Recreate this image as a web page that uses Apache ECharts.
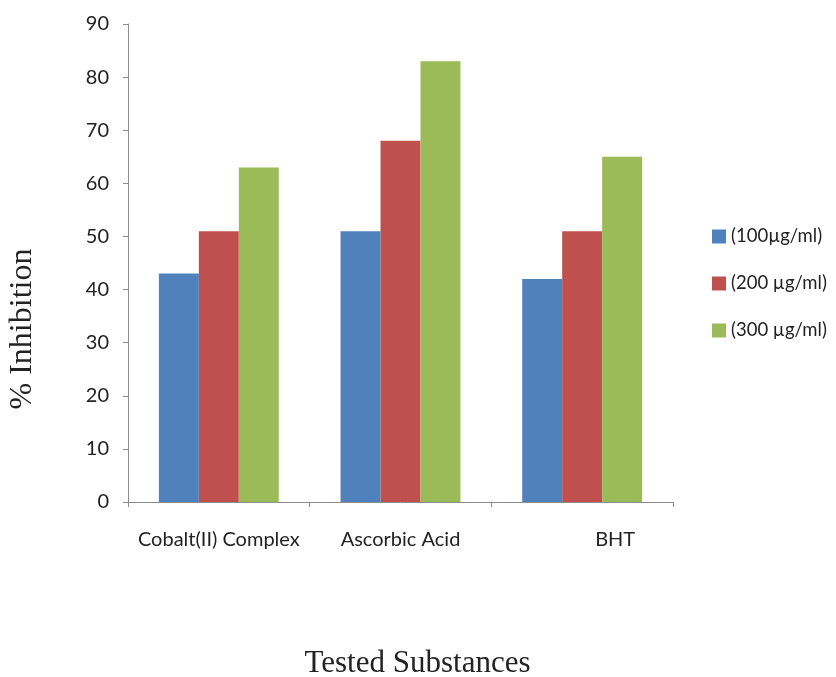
<!DOCTYPE html>
<html>
<head>
<meta charset="utf-8">
<script src="https://cdn.jsdelivr.net/npm/echarts@6/dist/echarts.min.js"></script>
<style>
  html, body { margin: 0; padding: 0; background: #fff; }
  #chart { width: 836px; height: 677px; }
</style>
</head>
<body>
<div id="chart"></div>
<script>
// Antioxidant activity (% inhibition) of each tested substance at three concentrations
const categories = ['Cobalt(II) Complex', 'Ascorbic Acid', 'BHT'];
const seriesNames = ['(100µg/ml)', '(200 µg/ml)', '(300 µg/ml)'];
const conc100 = [43, 51, 42];
const conc200 = [51, 68, 51];
const conc300 = [63, 83, 65];
const yTicks = [0, 10, 20, 30, 40, 50, 60, 70, 80, 90];

const colors = ['#4F81BD', '#C0504D', '#9BBB59'];
const values = [conc100, conc200, conc300];
const labelFont = 'Lato, "Open Sans", sans-serif';
const titleFont = '"Liberation Serif", "Times New Roman", serif';
const axisGrey = '#8c8c8c';

const chart = echarts.init(document.getElementById('chart'));
chart.setOption({
  animation: false,
  backgroundColor: '#fff',
  grid: { left: 128, right: 163, top: 24, bottom: 175, containLabel: false, outerBoundsMode: 'none' },
  legend: {
    orient: 'vertical',
    left: 707,
    top: 222,
    itemWidth: 14,
    itemHeight: 14,
    itemGap: 28,
    icon: 'rect',
    data: seriesNames,
    textStyle: { fontFamily: labelFont, fontSize: 18.5, color: '#222' }
  },
  xAxis: {
    type: 'category',
    data: categories,
    name: 'Tested Substances',
    nameLocation: 'middle',
    nameGap: 146,
    nameTextStyle: { fontFamily: titleFont, fontSize: 31, color: '#222', padding: [0, 0, 0, 34] },
    axisLine: { lineStyle: { color: axisGrey, width: 1 } },
    axisTick: { show: true, alignWithLabel: false, length: 5, lineStyle: { color: axisGrey } },
    axisLabel: {
      interval: 0,
      hideOverlap: false,
      fontFamily: labelFont,
      fontSize: 20,
      color: '#222',
      margin: 28,
      formatter: function (v) { return v === 'BHT' ? '{o|' + v + '}' : v; },
      rich: { o: { fontFamily: labelFont, fontSize: 20, color: '#222', padding: [0, 0, 0, 66] } }
    }
  },
  yAxis: {
    type: 'value',
    min: yTicks[0],
    max: yTicks[yTicks.length - 1],
    interval: 10,
    name: '% Inhibition',
    nameLocation: 'middle',
    nameGap: 89,
    nameRotate: 90,
    nameTextStyle: { fontFamily: titleFont, fontSize: 32, color: '#222', padding: [0, 132, 0, 0] },
    axisLine: { show: true, lineStyle: { color: axisGrey, width: 1 } },
    axisTick: { show: true, length: 5, lineStyle: { color: axisGrey } },
    splitLine: { show: false },
    axisLabel: { fontFamily: labelFont, fontSize: 20, color: '#222', margin: 19 }
  },
  series: seriesNames.map(function (name, i) {
    return {
      name: name,
      type: 'bar',
      data: values[i],
      barGap: '0%',
      barCategoryGap: '34%',
      itemStyle: { color: colors[i] }
    };
  })
});
</script>
</body>
</html>
